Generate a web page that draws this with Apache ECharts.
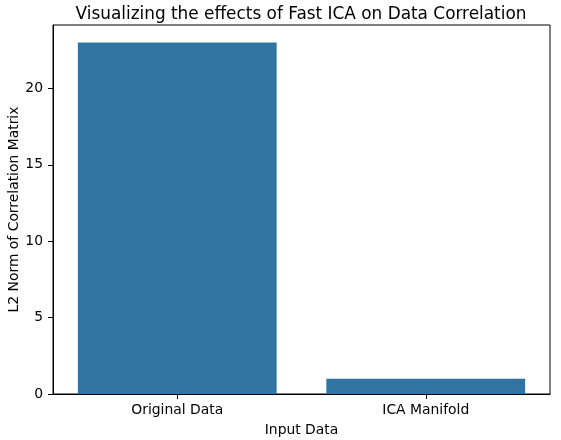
<!DOCTYPE html>
<html>
<head>
<meta charset="utf-8">
<script src="https://cdn.jsdelivr.net/npm/echarts@6/dist/echarts.min.js"></script>
<style>
  html, body { margin: 0; padding: 0; background: #fff; }
  #chart { width: 561px; height: 440px; }
</style>
</head>
<body>
<div id="chart"></div>
<script>
// 数据
const categories = ['Original Data', 'ICA Manifold']
const normValues = [23.0, 1.0]
const yTicks = [0, 5, 10, 15, 20]

const FONT = 'DejaVu Sans'
const FS = 13.9
const chart = echarts.init(document.getElementById('chart'), null, { renderer: 'canvas' })

const option = {
  animation: false,
  backgroundColor: '#fff',
  textStyle: { fontFamily: FONT, color: '#000' },
  title: {
    text: 'Visualizing the effects of Fast ICA on Data Correlation',
    left: 296,
    textAlign: 'center',
    top: 1,
    textStyle: { fontFamily: FONT, fontSize: 16.9, fontWeight: 'normal', color: '#000' }
  },
  grid: {
    left: 53, right: 11, top: 25, bottom: 46,
    outerBoundsMode: 'none',
    containLabel: false,
    show: true, borderColor: '#000', borderWidth: 1,
    backgroundColor: 'transparent'
  },
  xAxis: {
    type: 'category',
    data: categories,
    name: 'Input Data',
    nameLocation: 'middle',
    nameGap: 29,
    nameMoveOverlap: false,
    nameTextStyle: { fontFamily: FONT, fontSize: FS, color: '#000' },
    axisLine: { show: true, lineStyle: { color: '#000', width: 1 } },
    axisTick: { show: true, alignWithLabel: true, length: 5, lineStyle: { color: '#000' } },
    axisLabel: { fontFamily: FONT, fontSize: FS, color: '#000', margin: 9 },
    splitLine: { show: false }
  },
  yAxis: {
    type: 'value',
    min: 0,
    max: 24.15,
    interval: 5,
    name: 'L2 Norm of Correlation Matrix',
    nameLocation: 'middle',
    nameGap: 32,
    nameMoveOverlap: false,
    nameTextStyle: { fontFamily: FONT, fontSize: FS, color: '#000' },
    axisLine: { show: true, lineStyle: { color: '#000', width: 1 } },
    axisTick: { show: true, length: 5, lineStyle: { color: '#000' } },
    axisLabel: {
      fontFamily: FONT, fontSize: FS, color: '#000', margin: 10,
      showMaxLabel: false,
      formatter: (v) => (yTicks.includes(v) ? String(v) : '')
    },
    splitLine: { show: false }
  },
  series: [{
    type: 'bar',
    data: normValues,
    barCategoryGap: '20%',
    itemStyle: { color: '#3274a1' }
  }]
}

chart.setOption(option)
</script>
</body>
</html>
